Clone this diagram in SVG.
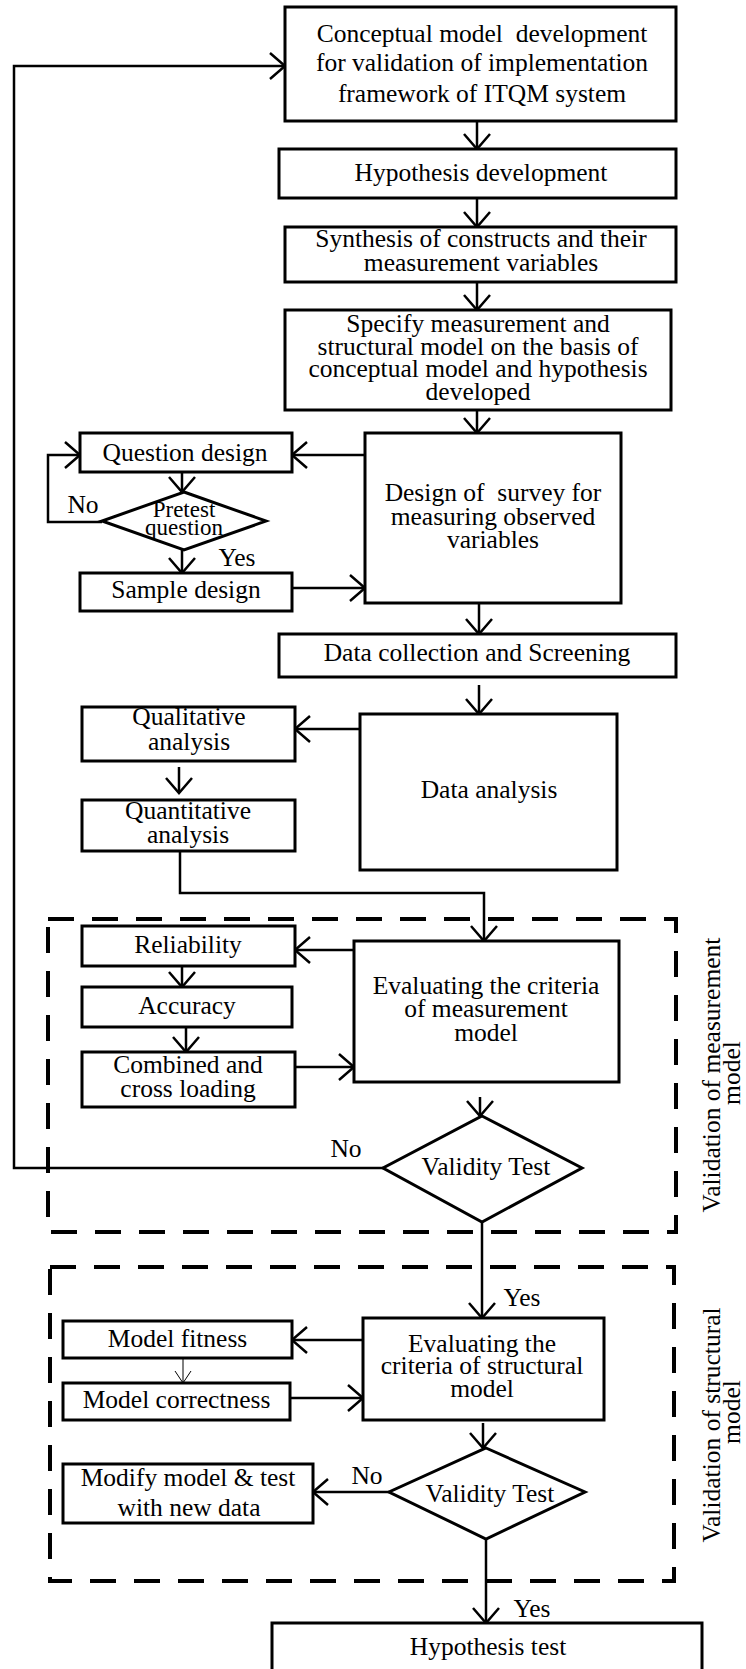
<svg xmlns="http://www.w3.org/2000/svg" width="746" height="1669" viewBox="0 0 746 1669">
<style>
.box{fill:#fff;stroke:#000;stroke-width:3}
.t{font-family:"Liberation Serif","Times New Roman",serif;font-size:25.5px;fill:#000;text-anchor:middle}
.s{font-size:23px}
.c{fill:none;stroke:#000;stroke-width:2.5;marker-end:url(#ah)}
.thin{fill:none;stroke:#000;stroke-width:1;marker-end:url(#ahs)}
.dash{fill:none;stroke:#000;stroke-width:4;stroke-dasharray:26 18}
</style>
<defs>
<marker id="ah" markerUnits="userSpaceOnUse" viewBox="-20 -20 40 40" markerWidth="40" markerHeight="40" refX="0" refY="0" orient="auto" overflow="visible">
<path d="M-15,-13 L0,0 L-15,13" fill="none" stroke="#000" stroke-width="2.5"/>
</marker>
<marker id="ahs" markerUnits="userSpaceOnUse" viewBox="-20 -20 40 40" markerWidth="40" markerHeight="40" refX="0" refY="0" orient="auto" overflow="visible">
<path d="M-12,-8 L0,0 L-12,8" fill="none" stroke="#000" stroke-width="1"/>
</marker>
</defs>
<rect width="746" height="1669" fill="#fff"/>

<g id="group-measurement">
<rect class="dash" x="48" y="919" width="628" height="313"/>
<text class="t" transform="translate(720,1075) rotate(-90)">Validation of measurement</text>
<text class="t" transform="translate(740,1073) rotate(-90)">model</text>
</g>
<g id="group-structural">
<rect class="dash" x="50" y="1267" width="624" height="314"/>
<text class="t" transform="translate(720,1425) rotate(-90)">Validation of structural</text>
<text class="t" transform="translate(740,1412) rotate(-90)">model</text>
</g>

<g id="connectors">
<path class="c" d="M383,1168 H14 V66 H285"/>
<path class="c" d="M477,121 V149"/>
<path class="c" d="M477,198 V227"/>
<path class="c" d="M477,282 V310"/>
<path class="c" d="M477,410 V433"/>
<path class="c" d="M365,455 H292"/>
<path class="c" d="M182,472 V492"/>
<path class="c" d="M102,522 H48 V455 H80"/>
<path class="c" d="M182,550 V573"/>
<path class="c" d="M292,588 H365"/>
<path class="c" d="M479,603 V634"/>
<path class="c" d="M479,685 V714"/>
<path class="c" d="M360,729 H295"/>
<path class="c" d="M179,767 V793"/>
<path class="c" d="M180,851 V893 H484 V941"/>
<path class="c" d="M354,950 H295"/>
<path class="c" d="M182,966 V987"/>
<path class="c" d="M186,1027 V1052"/>
<path class="c" d="M295,1067 H354"/>
<path class="c" d="M480,1097 V1116"/>
<path class="c" d="M482,1222 V1318"/>
<path class="c" d="M363,1340 H292"/>
<path class="thin" d="M183,1358 V1383"/>
<path class="c" d="M290,1398 H363"/>
<path class="c" d="M483,1423 V1448"/>
<path class="c" d="M389,1492 H313"/>
<path class="c" d="M486,1539 V1623"/>
<text class="t" x="83" y="513">No</text>
<text class="t" x="237" y="566">Yes</text>
<text class="t" x="346" y="1157">No</text>
<text class="t" x="522" y="1306">Yes</text>
<text class="t" x="367" y="1484">No</text>
<text class="t" x="532" y="1617">Yes</text>
</g>

<g id="n-conceptual">
<rect class="box" x="285" y="7" width="391" height="114"/>
<text class="t" x="482" y="42" xml:space="preserve">Conceptual model  development</text>
<text class="t" x="482" y="71">for validation of implementation</text>
<text class="t" x="482" y="102">framework of ITQM system</text>
</g>
<g id="n-hypothesis-dev">
<rect class="box" x="279" y="149" width="397" height="49"/>
<text class="t" x="481" y="181">Hypothesis development</text>
</g>
<g id="n-synthesis">
<rect class="box" x="285" y="227" width="391" height="55"/>
<text class="t" x="481" y="247">Synthesis of constructs and their</text>
<text class="t" x="481" y="271">measurement variables</text>
</g>
<g id="n-specify">
<rect class="box" x="285" y="310" width="386" height="100"/>
<text class="t" x="478" y="332">Specify measurement and</text>
<text class="t" x="478" y="354.5">structural model on the basis of</text>
<text class="t" x="478" y="377">conceptual model and hypothesis</text>
<text class="t" x="478" y="400">developed</text>
</g>
<g id="n-survey">
<rect class="box" x="365" y="433" width="256" height="170"/>
<text class="t" x="493" y="501" xml:space="preserve">Design of  survey for</text>
<text class="t" x="493" y="524.5">measuring observed</text>
<text class="t" x="493" y="548">variables</text>
</g>
<g id="n-question">
<rect class="box" x="80" y="433" width="212" height="39"/>
<text class="t" x="185" y="461">Question design</text>
</g>
<g id="n-pretest">
<path class="box" d="M184,492 L266,521 L184,550 L102,521 Z"/>
<text class="t s" x="184" y="517">Pretest</text>
<text class="t s" x="184" y="535">question</text>
</g>
<g id="n-sample">
<rect class="box" x="80" y="573" width="212" height="38"/>
<text class="t" x="186" y="598">Sample design</text>
</g>
<g id="n-datacollection">
<rect class="box" x="279" y="634" width="397" height="43"/>
<text class="t" x="477" y="661">Data collection and Screening</text>
</g>
<g id="n-dataanalysis">
<rect class="box" x="360" y="714" width="257" height="156"/>
<text class="t" x="489" y="798">Data analysis</text>
</g>
<g id="n-qualitative">
<rect class="box" x="82" y="707" width="213" height="54"/>
<text class="t" x="189" y="725">Qualitative</text>
<text class="t" x="189" y="750">analysis</text>
</g>
<g id="n-quantitative">
<rect class="box" x="82" y="800" width="213" height="51"/>
<text class="t" x="188" y="819">Quantitative</text>
<text class="t" x="188" y="843">analysis</text>
</g>
<g id="n-eval-measurement">
<rect class="box" x="354" y="941" width="265" height="141"/>
<text class="t" x="486" y="994">Evaluating the criteria</text>
<text class="t" x="486" y="1017">of measurement</text>
<text class="t" x="486" y="1041">model</text>
</g>
<g id="n-reliability">
<rect class="box" x="82" y="926" width="213" height="40"/>
<text class="t" x="188" y="953">Reliability</text>
</g>
<g id="n-accuracy">
<rect class="box" x="82" y="987" width="210" height="40"/>
<text class="t" x="187" y="1014">Accuracy</text>
</g>
<g id="n-combined">
<rect class="box" x="82" y="1052" width="213" height="55"/>
<text class="t" x="188" y="1073">Combined and</text>
<text class="t" x="188" y="1097">cross loading</text>
</g>
<g id="n-validity1">
<path class="box" d="M482,1116 L582,1168 L482,1222 L383,1168 Z"/>
<text class="t" x="486" y="1175">Validity Test</text>
</g>
<g id="n-eval-structural">
<rect class="box" x="363" y="1318" width="241" height="102"/>
<text class="t" x="482" y="1352">Evaluating the</text>
<text class="t" x="482" y="1374">criteria of structural</text>
<text class="t" x="482" y="1397">model</text>
</g>
<g id="n-fitness">
<rect class="box" x="63" y="1321" width="229" height="37"/>
<text class="t" x="177.5" y="1347">Model fitness</text>
</g>
<g id="n-correctness">
<rect class="box" x="63" y="1383" width="227" height="37"/>
<text class="t" x="176.5" y="1408">Model correctness</text>
</g>
<g id="n-validity2">
<path class="box" d="M486,1448 L585,1492 L486,1539 L389,1492 Z"/>
<text class="t" x="490" y="1502">Validity Test</text>
</g>
<g id="n-modify">
<rect class="box" x="63" y="1464" width="250" height="59"/>
<text class="t" x="188" y="1486">Modify model &amp; test</text>
<text class="t" x="189" y="1516">with new data</text>
</g>
<g id="n-hypothesis-test">
<rect class="box" x="272" y="1623" width="430" height="70"/>
<text class="t" x="488" y="1655">Hypothesis test</text>
</g>
</svg>
